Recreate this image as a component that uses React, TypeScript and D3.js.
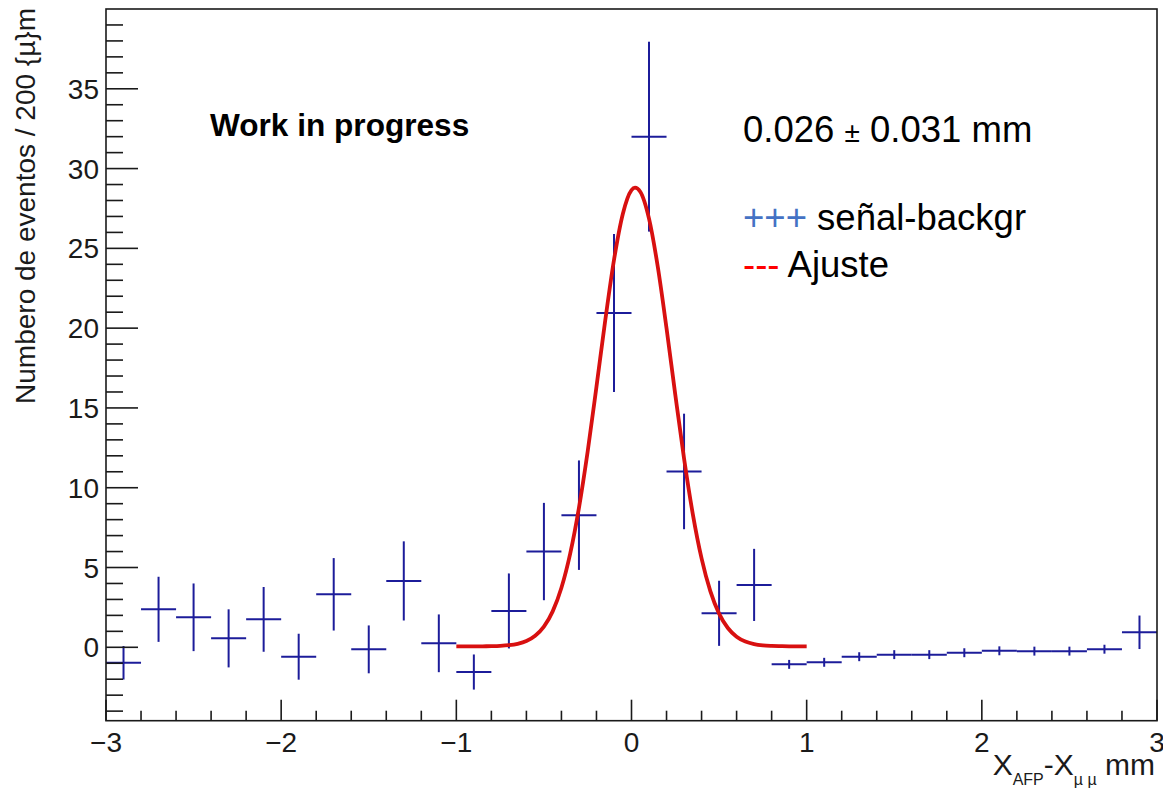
import React from "react";
import * as d3 from "d3";

// ---- data ----
const binCenters = [
  -2.9, -2.7, -2.5, -2.3, -2.1, -1.9, -1.7, -1.5, -1.3, -1.1,
  -0.9, -0.7, -0.5, -0.3, -0.1, 0.1, 0.3, 0.5, 0.7, 0.9,
  1.1, 1.3, 1.5, 1.7, 1.9, 2.1, 2.3, 2.5, 2.7, 2.9,
];
const binCounts = [
  -0.97, 2.38, 1.88, 0.56, 1.75, -0.59, 3.32, -0.13, 4.16, 0.25,
  -1.55, 2.28, 6.0, 8.28, 20.95, 32.0, 11.02, 2.13, 3.91, -1.07,
  -0.94, -0.59, -0.46, -0.46, -0.34, -0.22, -0.24, -0.24, -0.12, 0.94,
];
const binErrors = [
  1.05, 2.04, 2.12, 1.82, 2.03, 1.44, 2.27, 1.5, 2.48, 1.81,
  1.1, 2.35, 3.05, 3.43, 4.95, 5.95, 3.62, 2.04, 2.26, 0.28,
  0.28, 0.28, 0.28, 0.28, 0.28, 0.28, 0.28, 0.28, 0.28, 1.05,
];
const binHalfWidth = 0.1;

// fit curve ("Ajuste")
const fitX = [
  -1.0, -0.95, -0.9, -0.85, -0.8, -0.75, -0.7, -0.65, -0.6, -0.55,
  -0.5, -0.45, -0.4, -0.35, -0.3, -0.25, -0.2, -0.15, -0.1, -0.05,
  0.0, 0.02, 0.05, 0.1, 0.15, 0.2, 0.25, 0.3, 0.35, 0.4,
  0.45, 0.5, 0.55, 0.6, 0.65, 0.7, 0.75, 0.8, 0.85, 0.9, 0.95, 1.0,
];
const fitY = [
  0.06, 0.06, 0.06, 0.064, 0.072, 0.089, 0.13, 0.22, 0.39, 0.72,
  1.29, 2.25, 3.73, 5.87, 8.74, 12.29, 16.32, 20.48, 24.27, 27.14,
  28.65, 28.8, 28.55, 26.86, 23.85, 19.99, 15.83, 11.83, 8.35, 5.57,
  3.52, 2.11, 1.21, 0.665, 0.36, 0.2, 0.12, 0.086, 0.07, 0.06, 0.06, 0.06,
];

const xMajorTicks = [-3, -2, -1, 0, 1, 2, 3];
const xTickLabels = ["\u22123", "\u22122", "\u22121", "0", "1", "2", "3"];
const yMajorTicks = [0, 5, 10, 15, 20, 25, 30, 35];
const yTickLabels = ["0", "5", "10", "15", "20", "25", "30", "35"];

const xDomain: [number, number] = [-3, 3];
const yDomain: [number, number] = [-4.6, 40];

const FONT = "'Liberation Sans', Arial, Helvetica, sans-serif";
const DATA_COLOR = "#1c1c9a";
const FIT_COLOR = "#d81010";

export default function App() {
  const W = 1163;
  const H = 788;
  const left = 106, right = 1157, top = 9, bottom = 720.7;

  const x = d3.scaleLinear().domain(xDomain).range([left, right]);
  const y = d3.scaleLinear().domain(yDomain).range([bottom, top]);

  const xMinor = d3.range(-3, 3.0001, 0.2).filter(
    (v) => Math.abs(v - Math.round(v)) > 1e-6
  );
  const yMinor = d3.range(-4, 40, 1).filter((v) => v % 5 !== 0);

  const fitPts: [number, number][] = fitX.map((v, i) => [v, fitY[i]]);
  const fitLine = d3
    .line<[number, number]>()
    .x((d) => x(d[0]))
    .y((d) => y(d[1]))
    .curve(d3.curveMonotoneX);

  return (
    <svg
      width={W}
      height={H}
      style={{ position: "absolute", left: 0, top: 0, background: "#fff" }}
      fontFamily={FONT}
    >
      <rect x={0} y={0} width={W} height={H} fill="#fff" />

      {/* data crosses */}
      <g stroke={DATA_COLOR} strokeWidth={2} fill="none">
        {binCenters.map((c, i) => (
          <g key={i}>
            <line
              x1={x(c - binHalfWidth)}
              x2={x(c + binHalfWidth)}
              y1={y(binCounts[i])}
              y2={y(binCounts[i])}
            />
            <line
              x1={x(c)}
              x2={x(c)}
              y1={y(binCounts[i] - binErrors[i])}
              y2={y(binCounts[i] + binErrors[i])}
            />
          </g>
        ))}
      </g>

      {/* fit */}
      <path
        d={fitLine(fitPts) || ""}
        stroke={FIT_COLOR}
        strokeWidth={3.8}
        fill="none"
        strokeLinejoin="round"
      />

      {/* frame */}
      <rect
        x={left}
        y={top}
        width={right - left}
        height={bottom - top}
        fill="none"
        stroke="#1a1a1a"
        strokeWidth={1.6}
      />

      {/* ticks */}
      <g stroke="#1a1a1a" strokeWidth={1.6}>
        {xMajorTicks.map((t) => (
          <line key={"xM" + t} x1={x(t)} x2={x(t)} y1={bottom} y2={bottom - 21} />
        ))}
        {xMinor.map((t, i) => (
          <line key={"xm" + i} x1={x(t)} x2={x(t)} y1={bottom} y2={bottom - 10} />
        ))}
        {yMajorTicks.map((t) => (
          <line key={"yM" + t} x1={left} x2={left + 32} y1={y(t)} y2={y(t)} />
        ))}
        {yMinor.map((t) => (
          <line key={"ym" + t} x1={left} x2={left + 17} y1={y(t)} y2={y(t)} />
        ))}
      </g>

      {/* tick labels */}
      <g fontSize={28} fill="#1a1a1a">
        {xMajorTicks.map((t, i) => (
          <text key={"xl" + t} x={x(t)} y={752} textAnchor="middle">
            {xTickLabels[i]}
          </text>
        ))}
        {yMajorTicks.map((t, i) => (
          <text key={"yl" + t} x={99} y={y(t) + 10} textAnchor="end">
            {yTickLabels[i]}
          </text>
        ))}
      </g>

      {/* axis titles */}
      <text
        transform="translate(35,8) rotate(-90)"
        textAnchor="end"
        fontSize={28}
        fill="#1a1a1a"
      >
        Numbero de eventos / 200 {"{\u00b5}"}m
      </text>
      <text x={1155} y={775} textAnchor="end" fontSize={30} fill="#1a1a1a">
        <tspan>X</tspan>
        <tspan fontSize={16} dy={10}>AFP</tspan>
        <tspan dy={-10}>-X</tspan>
        <tspan fontSize={16} dy={10}>{"\u00b5 \u00b5"}</tspan>
        <tspan dy={-10}> mm</tspan>
      </text>

      {/* annotations */}
      <text x={210} y={136} fontSize={31.6} fontWeight="bold" fill="#000">
        Work in progress
      </text>
      <text x={743} y={142} fontSize={36.5} fill="#000">
        <tspan>0.026 </tspan>
        <tspan fontSize={28}>{"\u00b1"}</tspan>
        <tspan> 0.031 mm</tspan>
      </text>
      <text x={743} y={230} fontSize={36.5} fill="#000">
        <tspan fill="#4472c4">+++</tspan>
        <tspan> señal-backgr</tspan>
      </text>
      <text x={743} y={277} fontSize={36.5} fill="#000">
        <tspan fill="#ff0000">---</tspan>
        <tspan> Ajuste</tspan>
      </text>
    </svg>
  );
}
